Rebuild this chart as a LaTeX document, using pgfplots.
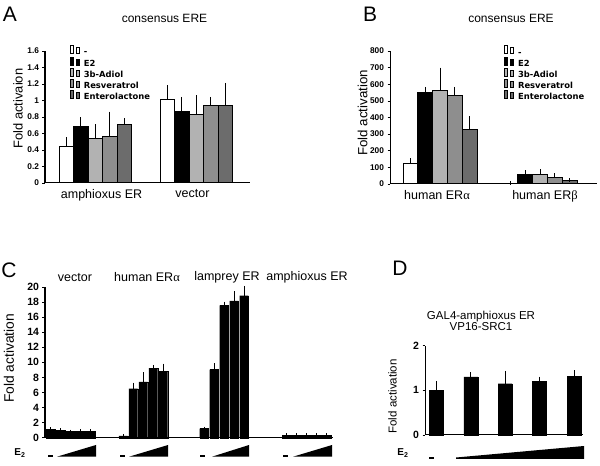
\documentclass[border=0pt]{standalone}
\usepackage{pgfplots}
\pgfplotsset{compat=1.18}
\usepackage{fontspec}
\setmainfont{Liberation Sans}
\newfontfamily\legfont{DejaVu Sans}
\newfontfamily\grk{Liberation Serif}
\definecolor{lg}{HTML}{B2B2B2}
\definecolor{mg}{HTML}{8E8E8E}
\definecolor{dg}{HTML}{6C6C6C}
\pgfplotsset{
  panel/.style={
    scale only axis, axis x line=bottom, axis y line=left,
    axis line style={-, line width=1pt},
    /pgf/number format/assume math mode=true,
    xtick style={draw=none},
    ytick style={line width=0.6pt, black},
    tick align=outside, major tick length=2.5pt,
    xticklabel style={font=\fontsize{12.5}{12.5}\selectfont},
    clip=false,
  },
  errb/.style={error bars/y dir=plus, error bars/y explicit,
    error bars/error bar style={line width=1pt, black},
    error bars/error mark options={line width=1pt, mark size=2pt, black}},
  leg/.style={legend image code/.code={\draw[##1, draw=black, line width=1pt] (0pt,-3.1pt) rectangle (6.2pt,3.1pt);}},
  legsty/.style={legend style={draw=none, fill=none, font=\legfont\bfseries\fontsize{8.4}{8.4}\selectfont,
    row sep=0pt, inner sep=0pt, legend cell align=left, column sep=1.5pt,
    nodes={text height=6.2pt, text depth=0pt, inner ysep=1.6pt, inner xsep=2.5pt}}},
}
\begin{document}
\begin{tikzpicture}[x=1pt,y=1pt]
\useasboundingbox (0,0) rectangle (600,466);
% ---------------- Panel A
\begin{axis}[panel, leg, legsty, at={(45pt,283pt)}, anchor=south west, width=205pt, height=132pt,
  xmin=-0.5, xmax=1.53, ymin=0, ymax=1.6, ytick={0,0.2,0.4,0.6,0.8,1,1.2,1.4,1.6},
  ybar=0pt, bar width=14.5pt,
  xtick={0.06,0.96}, xticklabels={amphioxus ER, vector},
  yticklabel style={font=\bfseries\fontsize{8.3}{8.3}\selectfont},
  ylabel={Fold activaion},
  ylabel style={font=\fontsize{12.9}{12.9}\selectfont, at={([xshift=-27pt,yshift=8.5pt]rel axis cs:0,0.5)}, anchor=center},
  legend style={at={(0.12,1.044)}, anchor=north west}]
\addplot[fill=white, draw=black, line width=1pt, errb] coordinates {(0,0.44) +- (0,0.09) (1,1.01) +- (0,0.15)};
\addplot[fill=black, draw=black, line width=1pt, errb] coordinates {(0,0.69) +- (0,0.08) (1,0.87) +- (0,0.15)};
\addplot[fill=lg, draw=black, line width=1pt, errb] coordinates {(0,0.54) +- (0,0.15) (1,0.83) +- (0,0.21)};
\addplot[fill=mg, draw=black, line width=1pt, errb] coordinates {(0,0.56) +- (0,0.28) (1,0.94) +- (0,0.08)};
\addplot[fill=dg, draw=black, line width=1pt, errb] coordinates {(0,0.71) +- (0,0.05) (1,0.94) +- (0,0.25)};
\legend{-, E2, 3b-Adiol, Resveratrol, Enterolactone}
\end{axis}
% ---------------- Panel B
\begin{axis}[panel, leg, legsty, at={(390pt,282pt)}, anchor=south west, width=207pt, height=133pt,
  xmin=-0.5, xmax=1.57, ymin=0, ymax=800, ytick={0,100,...,800},
  ybar=0pt, bar width=14.8pt,
  xtick={-0.03,1.05}, xticklabels={human ER{\grk α}, human ER{\grk β}},
  yticklabel style={font=\bfseries\fontsize{8.3}{8.3}\selectfont},
  ylabel={Fold activation},
  ylabel style={font=\fontsize{13.3}{13.3}\selectfont, at={([xshift=-27.5pt,yshift=4.5pt]rel axis cs:0,0.5)}, anchor=center},
  legend style={at={(0.55,1.043)}, anchor=north west}]
\addplot[fill=white, draw=black, line width=1pt, errb] coordinates {(0,125) +- (0,17) (1,5) +- (0,0)};
\addplot[fill=black, draw=black, line width=1pt, errb] coordinates {(0,550) +- (0,22) (1,60) +- (0,12)};
\addplot[fill=lg, draw=black, line width=1pt, errb] coordinates {(0,565) +- (0,123) (1,55) +- (0,22)};
\addplot[fill=mg, draw=black, line width=1pt, errb] coordinates {(0,530) +- (0,42) (1,38) +- (0,14)};
\addplot[fill=dg, draw=black, line width=1pt, errb] coordinates {(0,325) +- (0,70) (1,20) +- (0,3)};
\legend{-, E2, 3b-Adiol, Resveratrol, Enterolactone}
\end{axis}
% ---------------- Panel C
\begin{axis}[panel, at={(45pt,28.3pt)}, anchor=south west, width=288pt, height=150.7pt,
  xmin=4.5, xmax=33.3, ymin=0, ymax=20, ytick={0,2,...,20}, xtick=\empty,
  ybar, bar width=8.7pt,
  yticklabel style={font=\bfseries\fontsize{10.5}{10.5}\selectfont},
  ylabel={Fold activation},
  ylabel style={font=\fontsize{13.8}{13.8}\selectfont, at={([xshift=-36pt,yshift=4pt]rel axis cs:0,0.5)}, anchor=center}]
\addplot[fill=black, draw=black, line width=0.3pt, errb] coordinates {
 (5.07,1.1) +- (0,0) (6.07,1.0) +- (0,0) (7.07,0.82) +- (0,0) (8.07,0.88) +- (0,0) (9.07,0.84) +- (0,0)
 (12.33,0.25) +- (0,0) (13.33,6.5) +- (0,0.55) (14.33,7.4) +- (0,1.0) (15.33,9.25) +- (0,0.15) (16.33,8.8) +- (0,0.75)
 (20.4,1.22) +- (0,0) (21.4,9.05) +- (0,0.55) (22.4,17.55) +- (0,0.25) (23.4,18.15) +- (0,1.05) (24.4,18.85) +- (0,1.05)
 (28.67,0.3) +- (0,0) (29.67,0.3) +- (0,0) (30.67,0.3) +- (0,0) (31.67,0.3) +- (0,0) (32.67,0.3) +- (0,0)};
\node[font=\fontsize{12.5}{12.5}\selectfont] at (axis cs:7.5,21.3) {vector};
\node[font=\fontsize{12.5}{12.5}\selectfont] at (axis cs:14.7,21.3) {human ER{\grk α}};
\node[font=\fontsize{12.5}{12.5}\selectfont] at (axis cs:22.7,21.3) {lamprey ER};
\node[font=\fontsize{12.5}{12.5}\selectfont] at (axis cs:30.7,21.3) {amphioxus ER};
\end{axis}
% ---------------- Panel D
\begin{axis}[panel, at={(425pt,31pt)}, anchor=south west, width=158pt, height=89.3pt,
  xmin=0.67, xmax=5.26, ymin=0, ymax=2, ytick={0,1,2}, xtick=\empty,
  ybar, bar width=14pt,
  yticklabel style={font=\bfseries\fontsize{10.5}{10.5}\selectfont},
  ylabel={Fold activation},
  ylabel style={font=\fontsize{11.5}{11.5}\selectfont, at={([xshift=-32.5pt,yshift=-6pt]rel axis cs:0,0.5)}, anchor=center}]
\addplot[fill=black, draw=black, line width=0.3pt, errb] coordinates {
 (1,1.0) +- (0,0.17) (2,1.3) +- (0,0.06) (3,1.15) +- (0,0.24) (4,1.2) +- (0,0.06) (5,1.32) +- (0,0.08)};
\end{axis}
% ---------------- titles and letters
\node[font=\fontsize{21}{21}\selectfont] at (10,452) {A};
\node[font=\fontsize{21}{21}\selectfont] at (370,452) {B};
\node[font=\fontsize{21}{21}\selectfont] at (9,196) {C};
\node[font=\fontsize{21}{21}\selectfont] at (400,198) {D};
\node[font=\fontsize{12}{12}\selectfont] at (164.5,448) {consensus ERE};
\node[font=\fontsize{12}{12}\selectfont] at (511,448) {consensus ERE};
\node[font=\fontsize{11.5}{10.5}\selectfont, align=center] at (481,145) {GAL4-amphioxus ER\\VP16-SRC1};
% ---------------- E2 rows
\node[font=\bfseries\fontsize{10}{10}\selectfont] at (20,13) {E\textsubscript{2}};
\node[font=\bfseries\fontsize{10}{10}\selectfont] at (403,13) {E\textsubscript{2}};
\foreach \d/\a/\b in {48/57/96, 120/129/168, 200/212/249, 283/293/332}{
  \fill (\d,9.3) rectangle (\d+4.5,11);
  \fill (\a,9.3) -- (\b,9.3) -- (\b,21) -- cycle;
}
\fill (429,7.3) rectangle (433.5,9);
\fill (456,7) -- (584,7) -- (584,20) -- (456,8.5) -- cycle;
\end{tikzpicture}
\end{document}
